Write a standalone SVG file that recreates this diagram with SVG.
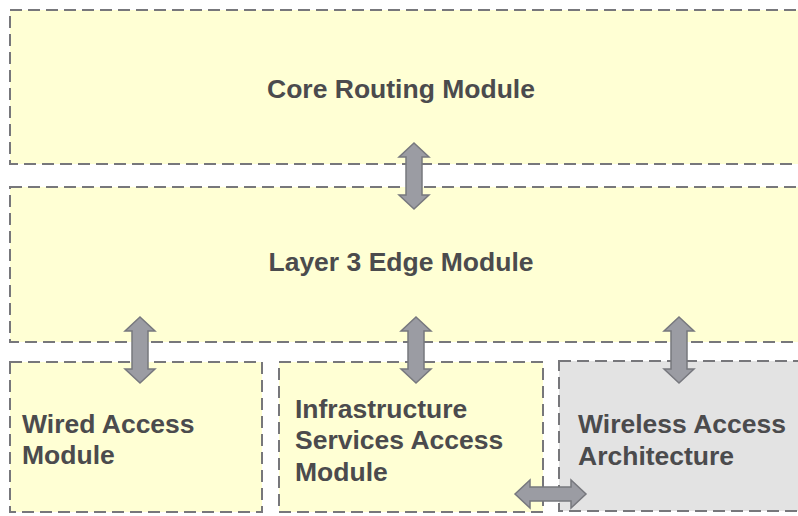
<svg xmlns="http://www.w3.org/2000/svg" width="798" height="516" viewBox="0 0 798 516">
<style>
.box{fill:#ffffd4;stroke:#77777b;stroke-width:2;stroke-dasharray:12 6}
.gray{fill:#e3e3e3}
.lbl{font-family:"Liberation Sans",Arial,sans-serif;font-weight:bold;font-size:26.5px;fill:#4b4b4d}
.arr{fill:#9b9ca3;stroke:#77787e;stroke-width:1.5;stroke-linejoin:miter}
</style>
<rect width="798" height="516" fill="#ffffff"/>
<g id="core">
<rect class="box" x="10" y="10" width="800" height="154"/>
<text class="lbl" x="401" y="98" text-anchor="middle">Core Routing Module</text>
</g>
<g id="layer3">
<rect class="box" x="10" y="187" width="800" height="155"/>
<text class="lbl" x="401" y="271" text-anchor="middle">Layer 3 Edge Module</text>
</g>
<g id="wired">
<rect class="box" x="10" y="362" width="252" height="150"/>
<text class="lbl" x="22" y="433">Wired Access</text>
<text class="lbl" x="22" y="464">Module</text>
</g>
<g id="infra">
<rect class="box" x="279" y="362" width="264" height="150"/>
<text class="lbl" x="295" y="418">Infrastructure</text>
<text class="lbl" x="295" y="449">Services Access</text>
<text class="lbl" x="295" y="481">Module</text>
</g>
<g id="wireless">
<rect class="box gray" x="559" y="361" width="251" height="150"/>
<text class="lbl" x="578" y="433">Wireless Access</text>
<text class="lbl" x="578" y="465">Architecture</text>
</g>
<g id="connectors">
<path class="arr" d="M414,143 L429,157 L422,157 L422,195 L429,195 L414,209 L399,195 L406,195 L406,157 L399,157 Z"/>
<path class="arr" d="M140,317 L155,331 L148,331 L148,369 L155,369 L140,383 L125,369 L132,369 L132,331 L125,331 Z"/>
<path class="arr" d="M416,317 L431,331 L424,331 L424,369 L431,369 L416,383 L401,369 L408,369 L408,331 L401,331 Z"/>
<path class="arr" d="M679,317 L694,331 L687,331 L687,369 L694,369 L679,383 L664,369 L671,369 L671,331 L664,331 Z"/>
<path class="arr" d="M515,494 L530,480 L530,487 L571,487 L571,480 L586,494 L571,508 L571,501 L530,501 L530,508 Z"/>
</g>
</svg>
